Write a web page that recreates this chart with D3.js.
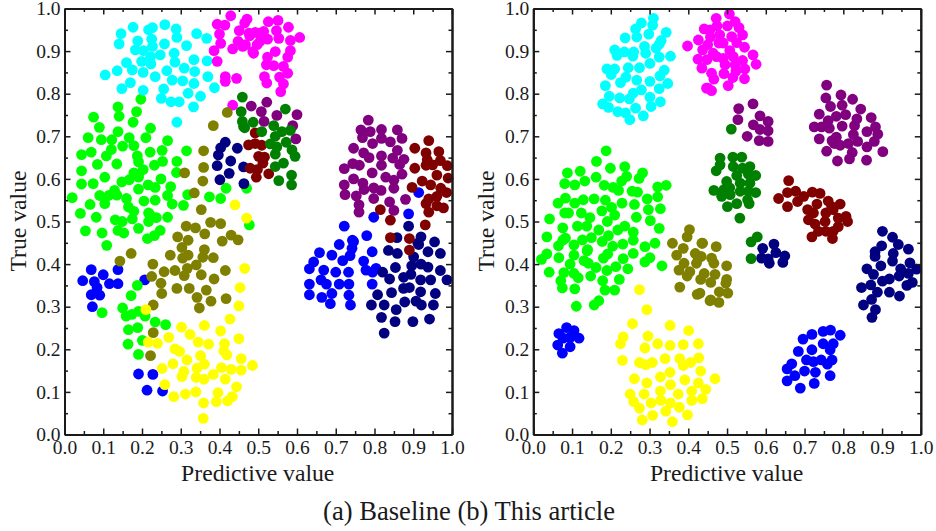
<!DOCTYPE html>
<html><head><meta charset="utf-8">
<script src="https://cdn.jsdelivr.net/npm/d3@7/dist/d3.min.js"></script>
<style>html,body{margin:0;padding:0;background:#fff}svg{display:block}text{font-family:"Liberation Serif",serif;fill:#1a1a1a}</style>
</head><body><svg id="c" width="936" height="531"></svg>
<script>
const majorTicks=[0,.1,.2,.3,.4,.5,.6,.7,.8,.9,1];
const minorTicks=[.05,.15,.25,.35,.45,.55,.65,.75,.85,.95];
const xTitle="Predictive value", yTitle="True value", caption="(a) Baseline (b) This article";
const colors={blue:"#0000ff",lime:"#00ff00",cyan:"#00ffff",magenta:"#ff00ff",purple:"#800080",navy:"#000080",maroon:"#800000",green:"#008000",olive:"#808000",yellow:"#ffff00"};

const baseBlue=[[.047,.361],[.069,.387],[.100,.375],[.138,.387],[.077,.359],[.084,.345],[.069,.328],[.091,.327],[.116,.354],[.138,.354],[.072,.300],[.207,.363],[.191,.142],[.228,.141],[.213,.104],[.253,.102],
[.709,.446],[.746,.453],[.742,.437],[.658,.427],[.690,.421],[.737,.420],[.718,.408],[.643,.405],[.632,.389],[.669,.386],[.700,.381],[.733,.381],[.662,.363],[.676,.353],[.709,.353],[.734,.353],[.632,.353],[.632,.328],[.664,.322],[.690,.331],[.734,.327],[.686,.307],[.738,.304],[.794,.429],[.772,.407],[.778,.386],[.795,.381],[.804,.390],[.794,.353],[.914,.568],[.888,.518],[.798,.510],[.722,.489],[.780,.467],[.743,.456]];
const baseLime=[[.020,.556],[.041,.519],[.054,.478],[.082,.510],[.097,.473],[.109,.444],[.066,.540],[.091,.561],[.104,.542],[.114,.561],[.129,.573],[.135,.562],[.160,.554],[.165,.534],[.179,.524],[.131,.504],[.149,.500],[.175,.506],[.138,.479],[.153,.473],[.191,.484],[.205,.548],[.234,.550],[.217,.520],[.220,.516],[.237,.509],[.217,.500],[.247,.479],[.232,.467],[.214,.460],[.266,.510],[.307,.538],[.278,.541],[.266,.561],[.274,.582],[.191,.576],[.216,.586],[.234,.580],[.249,.600],[.318,.563],[.374,.558],[.403,.554],[.417,.578],[.470,.578],[.477,.492],[.044,.588],[.074,.589],[.044,.619],[.104,.604],[.085,.634],[.044,.657],[.069,.663],[.108,.654],[.121,.669],[.061,.697],[.095,.692],[.122,.692],[.075,.745],[.090,.721],[.138,.711],[.135,.635],[.150,.677],[.179,.678],[.167,.697],[.210,.697],[.222,.719],[.177,.733],[.141,.747],[.138,.769],[.186,.758],[.197,.787],[.188,.654],[.191,.640],[.221,.663],[.252,.667],[.253,.641],[.232,.632],[.266,.690],[.290,.641],[.315,.666],[.289,.615],[.203,.622],[.191,.610],[.179,.614],[.167,.598],[.148,.593],[.191,.604],
[.188,.350],[.172,.326],[.150,.297],[.159,.278],[.174,.282],[.191,.289],[.208,.278],[.097,.286],[.234,.264],[.261,.258],[.165,.246],[.189,.251],[.201,.221],[.164,.212],[.191,.188]];
const baseCyan=[[.105,.844],[.136,.854],[.146,.941],[.141,.917],[.177,.956],[.189,.924],[.183,.903],[.204,.901],[.160,.873],[.175,.856],[.170,.826],[.148,.812],[.203,.808],[.203,.850],[.199,.876],[.222,.887],[.223,.870],[.234,.840],[.247,.891],[.227,.911],[.225,.928],[.217,.950],[.227,.955],[.259,.962],[.288,.952],[.290,.932],[.258,.917],[.283,.895],[.285,.874],[.264,.854],[.278,.832],[.305,.830],[.309,.860],[.315,.913],[.341,.941],[.367,.930],[.334,.880],[.368,.877],[.336,.852],[.370,.840],[.334,.824],[.387,.814],[.319,.801],[.351,.794],[.256,.811],[.250,.789],[.275,.781],[.296,.781],[.333,.769],[.290,.733]];
const baseMagenta=[[.394,.963],[.414,.961],[.429,.983],[.471,.975],[.465,.966],[.400,.940],[.451,.948],[.403,.918],[.386,.901],[.434,.905],[.448,.923],[.394,.876],[.415,.840],[.415,.829],[.444,.836],[.476,.942],[.502,.942],[.467,.915],[.486,.899],[.497,.915],[.434,.773],[.526,.969],[.551,.972],[.578,.956],[.607,.932],[.583,.925],[.547,.948],[.553,.930],[.524,.928],[.514,.946],[.492,.944],[.478,.936],[.460,.911],[.488,.895],[.544,.899],[.583,.901],[.576,.886],[.524,.886],[.521,.868],[.540,.866],[.565,.864],[.576,.848],[.516,.840],[.522,.825],[.555,.839],[.565,.823],[.558,.805],[.505,.923]];
const basePurple=[[.482,.771],[.522,.780],[.508,.758],[.548,.749],[.600,.751],[.515,.735],[.589,.725],[.597,.694],[.784,.738],[.765,.715],[.789,.711],[.818,.716],[.859,.715],[.769,.697],[.818,.695],[.871,.695],[.841,.687],[.795,.683],[.746,.672],[.859,.667],[.772,.661],[.786,.650],[.818,.654],[.847,.649],[.876,.646],[.865,.634],[.744,.636],[.761,.632],[.722,.624],[.818,.632],[.794,.614],[.871,.611],[.746,.600],[.829,.604],[.850,.597],[.770,.590],[.722,.586],[.773,.575],[.798,.579],[.817,.573],[.850,.578],[.724,.563],[.753,.560],[.798,.554],[.880,.552],[.839,.546],[.760,.539],[.850,.526],[.760,.522]];
const baseNavy=[[.825,.238],[.818,.275],[.853,.265],[.899,.265],[.942,.271],[.792,.304],[.825,.304],[.856,.293],[.878,.311],[.907,.313],[.921,.304],[.952,.304],[.808,.328],[.844,.333],[.875,.343],[.890,.345],[.919,.335],[.957,.331],[.839,.365],[.875,.369],[.894,.376],[.919,.363],[.945,.363],[.987,.363],[.821,.381],[.854,.392],[.896,.396],[.920,.400],[.938,.393],[.970,.385],[.901,.417],[.836,.432],[.859,.425],[.938,.429],[.970,.425],[.914,.446],[.955,.452],[.888,.489],[.858,.462],[.920,.464],[.912,.449],
[.415,.686],[.403,.673],[.446,.672],[.397,.656],[.429,.642],[.394,.631],[.425,.613],[.462,.628],[.401,.598],[.463,.589]];
const baseMaroon=[[.940,.690],[.904,.672],[.966,.664],[.933,.661],[.936,.645],[.970,.643],[.933,.632],[.950,.633],[.988,.631],[.904,.625],[.961,.609],[.990,.602],[.923,.595],[.945,.586],[.897,.580],[.971,.578],[.986,.568],[.961,.559],[.940,.553],[.933,.542],[.961,.537],[.978,.532],[.940,.522],[.815,.528],[.841,.503],[.931,.492],[.841,.462],[.890,.460],[.890,.433],
[.492,.708],[.475,.680],[.492,.683],[.509,.679],[.501,.653],[.516,.651],[.512,.637],[.479,.625],[.498,.622],[.527,.612],[.495,.604]];
const baseGreen=[[.459,.792],[.456,.758],[.459,.735],[.465,.720],[.487,.733],[.462,.723],[.570,.764],[.540,.725],[.509,.711],[.561,.711],[.583,.714],[.544,.700],[.531,.682],[.548,.675],[.572,.686],[.587,.668],[.595,.653],[.544,.658],[.565,.637],[.544,.629],[.586,.609],[.553,.596],[.586,.586]];
const baseOlive=[[.420,.756],[.384,.725],[.359,.666],[.359,.627],[.310,.614],[.357,.595],[.335,.567],[.353,.528],[.314,.489],[.338,.485],[.377,.498],[.403,.495],[.362,.471],[.292,.464],[.319,.456],[.407,.454],[.430,.468],[.448,.457],[.361,.434],[.172,.425],[.143,.407],[.228,.400],[.225,.371],[.273,.421],[.303,.439],[.319,.421],[.305,.414],[.357,.416],[.384,.415],[.340,.398],[.317,.390],[.309,.373],[.257,.382],[.285,.385],[.415,.385],[.353,.375],[.386,.365],[.249,.355],[.251,.331],[.290,.343],[.322,.343],[.366,.339],[.342,.322],[.378,.313],[.417,.319],[.348,.297],[.229,.304],[.229,.239],[.222,.185]];
const baseYellow=[[.465,.390],[.453,.345],[.450,.302],[.427,.271],[.403,.243],[.361,.256],[.302,.252],[.324,.235],[.269,.228],[.345,.217],[.372,.212],[.413,.213],[.450,.225],[.216,.217],[.240,.214],[.285,.201],[.297,.195],[.411,.196],[.419,.187],[.351,.185],[.316,.175],[.456,.178],[.280,.166],[.252,.155],[.308,.148],[.361,.165],[.342,.156],[.405,.157],[.430,.153],[.456,.151],[.485,.162],[.303,.136],[.340,.134],[.360,.130],[.384,.141],[.415,.130],[.444,.112],[.259,.117],[.282,.089],[.312,.095],[.339,.100],[.396,.098],[.392,.077],[.421,.079],[.433,.089],[.359,.074],[.358,.038],[.210,.293],[.440,.539],[.470,.508]];

const oursBlue=[[.792,.233],[.767,.245],[.748,.242],[.719,.235],[.696,.224],[.774,.213],[.748,.213],[.766,.199],[.719,.199],[.684,.195],[.705,.175],[.723,.171],[.743,.175],[.771,.175],[.759,.165],[.667,.166],[.655,.154],[.700,.149],[.728,.146],[.675,.138],[.766,.138],[.655,.126],[.725,.120],[.689,.109],
[.086,.251],[.066,.237],[.105,.244],[.118,.226],[.095,.228],[.077,.226],[.063,.210],[.095,.206],[.075,.191]];
const oursLime=[[.188,.666],[.163,.641],[.199,.625],[.236,.629],[.088,.614],[.121,.618],[.162,.604],[.241,.606],[.282,.614],[.273,.601],[.228,.595],[.081,.589],[.107,.586],[.133,.595],[.183,.585],[.206,.580],[.220,.573],[.321,.581],[.343,.585],[.255,.571],[.269,.569],[.321,.558],[.294,.553],[.083,.555],[.064,.543],[.107,.543],[.129,.551],[.157,.553],[.186,.550],[.229,.543],[.261,.540],[.202,.533],[.177,.525],[.297,.528],[.328,.530],[.081,.520],[.091,.520],[.124,.520],[.210,.515],[.146,.509],[.042,.506],[.266,.510],[.191,.500],[.302,.502],[.076,.485],[.114,.489],[.138,.489],[.169,.480],[.218,.480],[.236,.489],[.325,.484],[.258,.475],[.035,.464],[.083,.461],[.076,.456],[.127,.457],[.150,.462],[.194,.467],[.178,.453],[.258,.456],[.314,.449],[.065,.443],[.105,.445],[.140,.434],[.205,.442],[.231,.447],[.288,.441],
[.139,.431],[.192,.424],[.181,.414],[.035,.424],[.021,.411],[.066,.415],[.105,.421],[.095,.400],[.131,.408],[.142,.402],[.162,.392],[.232,.413],[.288,.405],[.301,.415],[.258,.425],[.213,.394],[.244,.389],[.332,.396],[.041,.381],[.079,.380],[.105,.378],[.116,.368],[.148,.372],[.190,.385],[.071,.361],[.179,.361],[.222,.364],[.075,.344],[.107,.342],[.185,.339],[.210,.339],[.111,.301],[.157,.304],[.169,.314]];
const oursCyan=[[.310,.977],[.279,.966],[.308,.961],[.264,.952],[.343,.944],[.298,.940],[.267,.933],[.237,.931],[.330,.925],[.325,.916],[.287,.911],[.317,.907],[.210,.903],[.235,.898],[.259,.898],[.290,.895],[.216,.890],[.257,.888],[.325,.886],[.354,.888],[.301,.871],[.190,.858],[.210,.858],[.201,.845],[.245,.861],[.274,.861],[.338,.855],[.327,.842],[.239,.839],[.225,.826],[.267,.832],[.301,.829],[.347,.824],[.186,.819],[.279,.809],[.325,.812],[.196,.794],[.223,.790],[.258,.801],[.248,.788],[.301,.792],[.328,.781],[.304,.770],[.179,.776],[.194,.768],[.218,.758],[.238,.755],[.264,.766],[.249,.739],[.284,.748]];
const oursMagenta=[[.398,.912],[.441,.952],[.426,.926],[.425,.881],[.435,.860],[.447,.813],[.506,.987],[.472,.977],[.521,.969],[.474,.959],[.531,.955],[.501,.959],[.540,.938],[.481,.938],[.457,.933],[.512,.934],[.479,.919],[.525,.920],[.450,.915],[.545,.909],[.507,.901],[.437,.903],[.464,.895],[.567,.891],[.490,.883],[.516,.887],[.540,.878],[.575,.869],[.448,.880],[.495,.868],[.521,.868],[.546,.858],[.460,.848],[.492,.847],[.523,.853],[.466,.834],[.515,.838],[.545,.835],[.503,.819],[.450,.813],[.460,.807],[.473,.887],[.456,.950],[.490,.919]];
const oursPurple=[[.530,.765],[.567,.776],[.528,.739],[.585,.748],[.606,.735],[.568,.727],[.606,.713],[.585,.716],[.552,.700],[.583,.690],[.606,.688],
[.757,.820],[.794,.797],[.755,.790],[.824,.787],[.767,.770],[.797,.773],[.845,.764],[.738,.752],[.806,.751],[.782,.747],[.872,.744],[.835,.741],[.761,.737],[.725,.722],[.744,.722],[.764,.719],[.797,.724],[.829,.725],[.883,.722],[.861,.711],[.889,.705],[.826,.704],[.738,.694],[.782,.698],[.771,.690],[.880,.688],[.837,.688],[.861,.675],[.792,.679],[.813,.683],[.757,.665],[.902,.664],[.823,.662],[.785,.642],[.816,.647],[.860,.644],[.777,.683]];
const oursNavy=[[.592,.437],[.621,.447],[.626,.427],[.606,.412],[.589,.414],[.649,.419],[.609,.402],[.644,.404],
[.901,.477],[.927,.463],[.942,.446],[.968,.435],[.899,.443],[.882,.429],[.882,.418],[.929,.425],[.927,.407],[.972,.403],[.989,.388],[.861,.389],[.897,.396],[.948,.389],[.968,.378],[.878,.376],[.944,.372],[.919,.365],[.901,.360],[.978,.357],[.964,.350],[.847,.345],[.871,.351],[.888,.334],[.919,.334],[.945,.325],[.873,.317],[.852,.304],[.883,.293],[.874,.275]];
const oursMaroon=[[.659,.596],[.633,.554],[.656,.568],[.677,.571],[.656,.535],[.682,.547],[.698,.559],[.720,.569],[.740,.566],[.732,.541],[.761,.548],[.792,.541],[.708,.528],[.774,.528],[.755,.520],[.710,.504],[.727,.494],[.753,.500],[.787,.508],[.807,.512],[.811,.500],[.787,.488],[.736,.477],[.755,.477],[.774,.477],[.719,.464],[.772,.460],[.723,.520],[.770,.535]];
const oursGreen=[[.482,.649],[.515,.651],[.538,.651],[.559,.629],[.472,.619],[.516,.629],[.540,.625],[.574,.608],[.555,.611],[.525,.608],[.499,.594],[.534,.590],[.559,.590],[.466,.573],[.492,.575],[.507,.579],[.534,.571],[.574,.568],[.555,.571],[.486,.559],[.508,.563],[.553,.551],[.557,.542],[.525,.542],[.501,.535],[.533,.508],[.511,.717],[.482,.633],[.578,.464],[.562,.452],[.562,.413]];
const oursOlive=[[.359,.449],[.403,.481],[.397,.464],[.435,.449],[.370,.421],[.387,.437],[.418,.425],[.426,.414],[.421,.402],[.389,.402],[.376,.386],[.404,.382],[.397,.372],[.441,.378],[.432,.364],[.378,.346],[.423,.329],[.456,.314],[.472,.441],[.433,.418],[.460,.414],[.466,.402],[.499,.396],[.469,.376],[.499,.364],[.497,.355],[.458,.357],[.480,.335],[.502,.332],[.458,.316],[.479,.310],[.430,.332],[.437,.449]];
const oursYellow=[[.274,.340],[.293,.293],[.256,.260],[.232,.229],[.225,.213],[.296,.231],[.353,.256],[.401,.244],[.321,.213],[.288,.203],[.353,.209],[.387,.211],[.426,.213],[.340,.178],[.378,.178],[.427,.180],[.230,.174],[.274,.169],[.290,.164],[.307,.169],[.387,.162],[.406,.169],[.353,.146],[.432,.149],[.328,.135],[.261,.131],[.293,.121],[.354,.117],[.391,.128],[.426,.121],[.445,.106],[.250,.095],[.286,.095],[.328,.102],[.374,.095],[.409,.102],[.436,.084],[.409,.080],[.259,.077],[.304,.074],[.329,.080],[.354,.074],[.274,.062],[.377,.064],[.342,.055],[.398,.046],[.281,.034],[.308,.045],[.359,.030],[.469,.131]];

const baseSeries=[["blue",baseBlue],["lime",baseLime],["cyan",baseCyan],["magenta",baseMagenta],["purple",basePurple],["navy",baseNavy],["maroon",baseMaroon],["green",baseGreen],["olive",baseOlive],["yellow",baseYellow]];
const oursSeries=[["blue",oursBlue],["lime",oursLime],["cyan",oursCyan],["magenta",oursMagenta],["purple",oursPurple],["navy",oursNavy],["maroon",oursMaroon],["green",oursGreen],["olive",oursOlive],["yellow",oursYellow]];

const svg=d3.select("#c");
const fmt=d3.format(".1f");
function panel(left,series){
  const W=387.5,top=8.5,H=426;
  const g=svg.append("g");
  const x=d3.scaleLinear().domain([0,1]).range([left,left+W]);
  const y=d3.scaleLinear().domain([0,1]).range([top+H,top]);
  series.forEach(([c,pts])=>{
    g.append("g").selectAll("circle").data(pts).join("circle")
      .attr("cx",d=>x(d[0])).attr("cy",d=>y(d[1])).attr("r",5.4).attr("fill",colors[c]);
  });
  const ax=(gen,tx,ty,vals,size,lab)=>{
    const a=g.append("g").attr("transform",`translate(${tx},${ty})`)
      .call(gen.tickValues(vals).tickSize(size).tickSizeOuter(0).tickFormat(lab?fmt:""));
    a.select(".domain").attr("stroke","#1a1a1a").attr("stroke-width",2);
    a.selectAll("line").attr("stroke","#1a1a1a").attr("stroke-width",1.5);
    return a;
  };
  const b=ax(d3.axisBottom(x),0,top+H,majorTicks,-6,true);
  b.selectAll("text").attr("font-size",19.5).attr("y",6).attr("dy","0.71em");
  ax(d3.axisBottom(x),0,top+H,minorTicks,-3.5,false);
  ax(d3.axisTop(x),0,top,majorTicks,-6,false);
  ax(d3.axisTop(x),0,top,minorTicks,-3.5,false);
  const l=ax(d3.axisLeft(y),left,0,majorTicks,-6,true);
  l.selectAll("text").attr("font-size",19.5).attr("x",-4).attr("dy","0.32em");
  ax(d3.axisLeft(y),left,0,minorTicks,-3.5,false);
  ax(d3.axisRight(y),left+W,0,majorTicks,-6,false);
  ax(d3.axisRight(y),left+W,0,minorTicks,-3.5,false);
  g.selectAll(".tick text").style("font-family",'"Liberation Serif",serif').style("fill","#1a1a1a");
  g.append("text").attr("x",left+W/2-.5).attr("y",480.5).attr("text-anchor","middle").attr("font-size",23.7).text(xTitle);
  g.append("text").attr("transform",`translate(${left-39},${top+H/2-.5}) rotate(-90)`).attr("text-anchor","middle").attr("font-size",23.7).text(yTitle);
}
panel(64.5,baseSeries);
panel(533.3,oursSeries);
svg.append("text").attr("x",469).attr("y",520).attr("text-anchor","middle").attr("font-size",26.6).text(caption);
</script></body></html>
